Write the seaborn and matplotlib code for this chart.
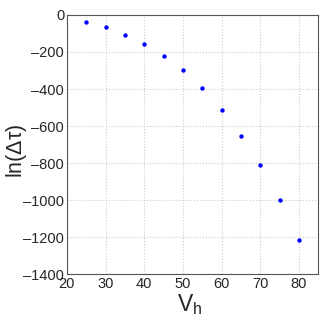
import matplotlib
matplotlib.use("Agg")
import matplotlib.pyplot as plt
import seaborn as sns
import pandas as pd

vh = [25, 30, 35, 40, 45, 50, 55, 60, 65, 70, 75, 80]
ln_dtau = [-40, -66, -106, -155, -220, -300, -396, -513, -652, -813, -1002, -1218]
xticks = [20, 30, 40, 50, 60, 70, 80]
yticks = [0, -200, -400, -600, -800, -1000, -1200, -1400]

sns.set_style("white")
plt.rcParams['font.family'] = ['Liberation Sans', 'DejaVu Sans']
plt.rcParams['mathtext.fontset'] = 'custom'
plt.rcParams['mathtext.rm'] = 'Liberation Sans'
plt.rcParams['mathtext.it'] = 'Liberation Sans'

df = pd.DataFrame({"Vh": vh, "ln": ln_dtau})
fig = plt.figure(figsize=(3.28, 3.19), dpi=100)
ax = fig.add_axes([0.204, 0.141, 0.766, 0.812])
sns.scatterplot(data=df, x="Vh", y="ln", ax=ax, color="#0000ff", s=10,
                edgecolor="#0000ff", linewidth=0, zorder=3)
ax.set_xlim(20, 85)
ax.set_ylim(-1400, 0)
ax.set_xticks(xticks)
ax.set_yticks(yticks)
ax.set_yticklabels([str(t).replace('-', '\u2013') for t in yticks])
ax.grid(True, linestyle=':', color='#cccccc', linewidth=0.8)
ax.tick_params(direction='in', length=3, labelsize=10.5, color='#444444', pad=2)
for s in ax.spines.values():
    s.set_color('#555555')
    s.set_linewidth(0.8)
ax.set_xlabel(r"V$_\mathrm{h}$", fontsize=16.5)
ax.set_ylabel(r"ln($\Delta\tau$)", fontsize=15.5)
ax.xaxis.set_label_coords(0.49, -0.07)
ax.yaxis.set_label_coords(-0.15, 0.475)
fig.savefig("out.png", dpi=100)
